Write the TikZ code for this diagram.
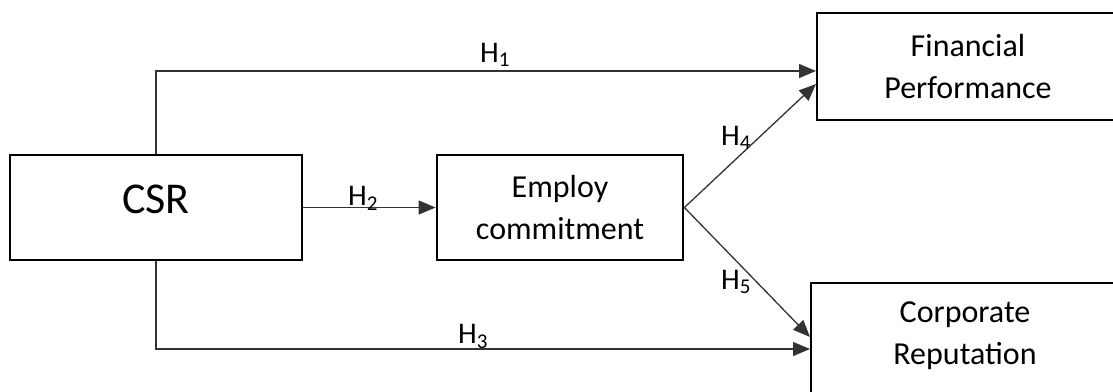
\documentclass[tikz,border=0pt]{standalone}
\usepackage{fontspec}
\setmainfont{Carlito}
\usetikzlibrary{arrows.meta}
\tikzset{
  boxline/.style={draw=black, line width=2.8pt},
  box/.style={boxline, fill=none, inner sep=0pt},
  boxtext/.style={align=center, font=\fontsize{32}{42}\selectfont, inner sep=0pt},
  conn/.style={draw=black!80, line width=1.3pt, -{Triangle[length=17pt,width=14pt]}},
  lbl/.style={font=\fontsize{30}{32}\selectfont, inner sep=0pt, anchor=base west}
}
\begin{document}
\begin{tikzpicture}[x=1pt,y=-1pt]
\useasboundingbox (0,0) rectangle (1113,391);
\clip (0,0) rectangle (1113,391);
% boxes
\node[box, minimum width=292pt, minimum height=105pt] (csr) at (156,207.5) {};
\node[font=\fontsize{44}{50}\selectfont, inner sep=0pt] (csrt) at (156,199) {CSR};
\node[box, minimum width=246pt, minimum height=105pt, boxtext] (emp) at (560,207.5) {Employ\\commitment};
\node[boxtext] (fin) at (968,67) {Financial\\Performance};
\draw[boxline] (817,13) rectangle (1130,120);
\node[boxtext] (rep) at (965,336) {Corporate\\Reputation};
\draw[boxline] (811,283) rectangle (1130,400);
% connector bends
\coordinate (c1) at (156,71);
\coordinate (c3) at (156,349);
\coordinate (f1) at (816,71);
\coordinate (f4) at (816,84);
\coordinate (r5) at (810,337);
\coordinate (r3) at (810,349);
% connectors
\draw[conn] (csr.north -| c1) -- (c1) -- (f1);
\draw[conn] (csr.south -| c3) -- (c3) -- (r3);
\draw[conn] (csr.east) -- (emp.west);
\draw[conn] (emp.east) -- (f4);
\draw[conn] (emp.east) -- (r5);
% labels
\node[lbl] (h1) at (480,62) {H\textsubscript{1}};
\node[lbl] (h2) at (348,205) {H\textsubscript{2}};
\node[lbl] (h3) at (458,343) {H\textsubscript{3}};
\node[lbl] (h4) at (721,145) {H\textsubscript{4}};
\node[lbl] (h5) at (721,289) {H\textsubscript{5}};
\end{tikzpicture}
\end{document}
